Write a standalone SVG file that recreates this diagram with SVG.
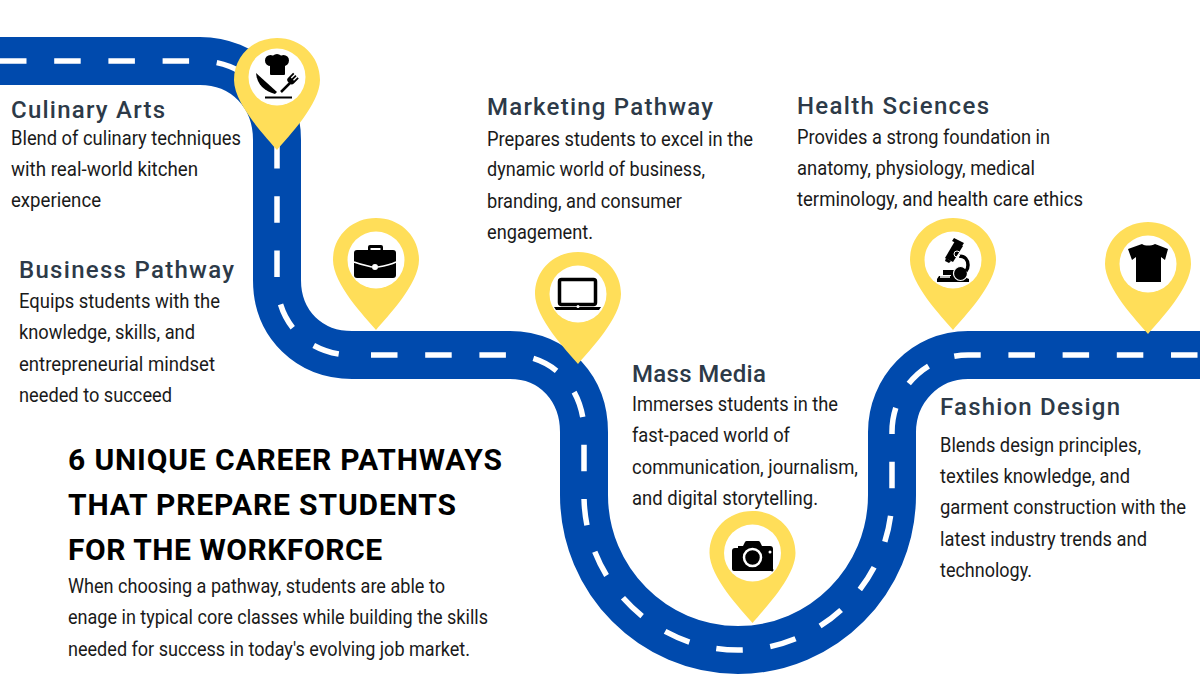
<svg xmlns="http://www.w3.org/2000/svg" width="1200" height="675" viewBox="0 0 1200 675">
<style>
text{font-family:"Roboto","Liberation Sans",sans-serif}
.h{font-size:24px;font-weight:500;fill:#2d3a48}
.b{font-size:19.5px;fill:#1a1a1a}
.t{font-size:30px;font-weight:700;fill:#000}
.road{fill:none;stroke:#004aad;stroke-width:48}
.dash{fill:none;stroke:#fff;stroke-width:5.5;stroke-dasharray:26.5 27.7}
.pin{fill:#ffde59}
.hole{fill:#fff}
.ink{fill:#000}
.cut{fill:none;stroke:#fff;stroke-width:1.5}
</style>
<defs>
<path id="pinshape" class="pin" d="M0 70C-11 57-43 24-43 0C-43-24-24-42 0-42C24-42 43-24 43 0C43 24 11 57 0 70Z"/>
</defs>
<rect width="1200" height="675" fill="#fff"/>
<g id="connectors">
<path id="road" class="road" d="M0 61H200C245 61 277 95 277 140V280C277 325 310 355 352 355H510C555 355 584 390 584 432V495C584 580 653 650 738 650C823 650 892 580 892 495V432C892 390 925 355 968 355H1200"/>
<path id="road-dashes-a" class="dash" d="M0 61H200C245 61 277 95 277 140V280C277 325 310 355 352 355"/>
<path id="road-dashes-b" class="dash" d="M371 355H510C555 355 584 390 584 432V495C584 580 653 650 738 650C823 650 892 580 892 495V432C892 390 925 355 968 355H1200"/>
</g>
<g id="node-culinary">
<use href="#pinshape" x="277" y="80"/>
<circle class="hole" cx="277" cy="77" r="28.5"/>
<circle class="ink" cx="270.500" cy="60.500" r="5.500"/>
<circle class="ink" cx="277" cy="59.500" r="5.500"/>
<circle class="ink" cx="283.500" cy="60.500" r="5.500"/>
<rect class="ink" x="270" y="62" width="15" height="13" rx="1"/>
<path class="ink" d="M256 73L277 92L275 94C265 91 257 85 256 73Z"/>
<path d="M281 92L290 83" fill="none" stroke="#000" stroke-width="2.500"/>
<g transform="translate(291 82) rotate(45)">
<path class="ink" d="M-5-8h1.800v5h1.300v-5h1.800v5h1.300v-5h1.800v7a3 3 0 0 1-3 3h-2a3 3 0 0 1-3-3Z"/>
</g>
<rect class="ink" x="265" y="96.500" width="27" height="2"/>
<text class="h" x="11" y="118" textLength="154">Culinary Arts</text>
<text class="b" x="11" y="145" textLength="230" lengthAdjust="spacingAndGlyphs">Blend of culinary techniques</text>
<text class="b" x="11" y="176" textLength="187" lengthAdjust="spacingAndGlyphs">with real-world kitchen</text>
<text class="b" x="11" y="207" textLength="90" lengthAdjust="spacingAndGlyphs">experience</text>
</g>
<g id="node-business">
<use href="#pinshape" x="376" y="260"/>
<circle class="hole" cx="376" cy="260" r="28.5"/>
<path class="ink" d="M368 250v-3a2 2 0 0 1 2-2h11a2 2 0 0 1 2 2v3h-2.500v-2h-10v2Z"/>
<rect class="ink" x="354" y="250" width="42" height="28" rx="3"/>
<path class="cut" d="M354 262C362 265 368 266 372 267M378 267C384 266 390 265 396 262"/>
<circle class="hole" cx="375" cy="267" r="3"/>
<text class="h" x="19" y="278" textLength="215">Business Pathway</text>
<text class="b" x="19" y="308" textLength="201" lengthAdjust="spacingAndGlyphs">Equips students with the</text>
<text class="b" x="19" y="339" textLength="176" lengthAdjust="spacingAndGlyphs">knowledge, skills, and</text>
<text class="b" x="19" y="371" textLength="196" lengthAdjust="spacingAndGlyphs">entrepreneurial mindset</text>
<text class="b" x="19" y="402" textLength="153" lengthAdjust="spacingAndGlyphs">needed to succeed</text>
</g>
<g id="node-marketing">
<use href="#pinshape" x="578" y="294"/>
<circle class="hole" cx="578" cy="294" r="28.5"/>
<rect x="559.500" y="279.500" width="36" height="25" rx="2" fill="none" stroke="#000" stroke-width="3.500"/>
<path class="ink" d="M554 307H601L599 310H556Z"/>
<circle class="hole" cx="578" cy="306.500" r="1.500"/>
<text class="h" x="487" y="115" textLength="226">Marketing Pathway</text>
<text class="b" x="487" y="146" textLength="266" lengthAdjust="spacingAndGlyphs">Prepares students to excel in the</text>
<text class="b" x="487" y="176" textLength="218" lengthAdjust="spacingAndGlyphs">dynamic world of business,</text>
<text class="b" x="487" y="208" textLength="195" lengthAdjust="spacingAndGlyphs">branding, and consumer</text>
<text class="b" x="487" y="239" textLength="106" lengthAdjust="spacingAndGlyphs">engagement.</text>
</g>
<g id="node-media">
<use href="#pinshape" x="752.500" y="553"/>
<circle class="hole" cx="752.500" cy="553" r="28.5"/>
<path class="ink" d="M732 551a3 3 0 0 1 3-3h3v-2h5l2-4a2 2 0 0 1 2-1h11a2 2 0 0 1 2 1l2 4h8a3 3 0 0 1 3 3v20a1 1 0 0 1-2 2h-37a2 2 0 0 1-2-2Z"/>
<circle cx="752.500" cy="557.500" r="8.500" fill="#000" stroke="#fff" stroke-width="2.500"/>
<circle class="hole" cx="770" cy="552" r="1.500"/>
<text class="h" x="632" y="382" textLength="134">Mass Media</text>
<text class="b" x="632" y="411" textLength="206" lengthAdjust="spacingAndGlyphs">Immerses students in the</text>
<text class="b" x="632" y="442" textLength="158" lengthAdjust="spacingAndGlyphs">fast-paced world of</text>
<text class="b" x="632" y="474" textLength="226" lengthAdjust="spacingAndGlyphs">communication, journalism,</text>
<text class="b" x="632" y="505" textLength="186" lengthAdjust="spacingAndGlyphs">and digital storytelling.</text>
</g>
<g id="node-health">
<use href="#pinshape" x="953" y="260"/>
<circle class="hole" cx="953" cy="260" r="28.5"/>
<path class="ink" d="M937 282v-3l2-3h12v-1h-8v-5h12v3l14 6v3Z"/>
<circle cx="960.500" cy="273.500" r="7" fill="#000" stroke="#fff" stroke-width="1.200"/>
<path d="M959 256C965 256 968 260 968 265C968 268 967 270 966 271" fill="none" stroke="#000" stroke-width="3.500"/>
<path class="ink" d="M945 258L955 241L963 246L953 262Z"/>
<path class="ink" d="M954 238L964 243L962 246L952 241ZM946 258L951 261L949 263L945 261Z"/>
<circle cx="957" cy="254" r="3" fill="none" stroke="#fff" stroke-width="1"/>
<path class="cut" d="M940 277H950" stroke-width="1"/>
<text class="h" x="797" y="114" textLength="192">Health Sciences</text>
<text class="b" x="797" y="144" textLength="253" lengthAdjust="spacingAndGlyphs">Provides a strong foundation in</text>
<text class="b" x="797" y="175" textLength="238" lengthAdjust="spacingAndGlyphs">anatomy, physiology, medical</text>
<text class="b" x="797" y="206" textLength="286" lengthAdjust="spacingAndGlyphs">terminology, and health care ethics</text>
</g>
<g id="node-fashion">
<use href="#pinshape" x="1148" y="264"/>
<circle class="hole" cx="1148" cy="264" r="28.5"/>
<path class="ink" d="M1142 244C1145 246 1151 246 1155 244L1168 249L1165 260L1161 257V282H1136V257L1132 260L1128 249Z"/>
<text class="h" x="940" y="415" textLength="180">Fashion Design</text>
<text class="b" x="940" y="452" textLength="201" lengthAdjust="spacingAndGlyphs">Blends design principles,</text>
<text class="b" x="940" y="483" textLength="190" lengthAdjust="spacingAndGlyphs">textiles knowledge, and</text>
<text class="b" x="940" y="514" textLength="246" lengthAdjust="spacingAndGlyphs">garment construction with the</text>
<text class="b" x="940" y="546" textLength="207" lengthAdjust="spacingAndGlyphs">latest industry trends and</text>
<text class="b" x="940" y="577" textLength="92" lengthAdjust="spacingAndGlyphs">technology.</text>
</g>
<g id="intro">
<text class="t" x="68" y="470" textLength="434">6 UNIQUE CAREER PATHWAYS</text>
<text class="t" x="68" y="515" textLength="388">THAT PREPARE STUDENTS</text>
<text class="t" x="68" y="560" textLength="314">FOR THE WORKFORCE</text>
<text class="b" x="68" y="593" textLength="377" lengthAdjust="spacingAndGlyphs">When choosing a pathway, students are able to</text>
<text class="b" x="68" y="624" textLength="420" lengthAdjust="spacingAndGlyphs">enage in typical core classes while building the skills</text>
<text class="b" x="68" y="656" textLength="402" lengthAdjust="spacingAndGlyphs">needed for success in today's evolving job market.</text>
</g>
</svg>
